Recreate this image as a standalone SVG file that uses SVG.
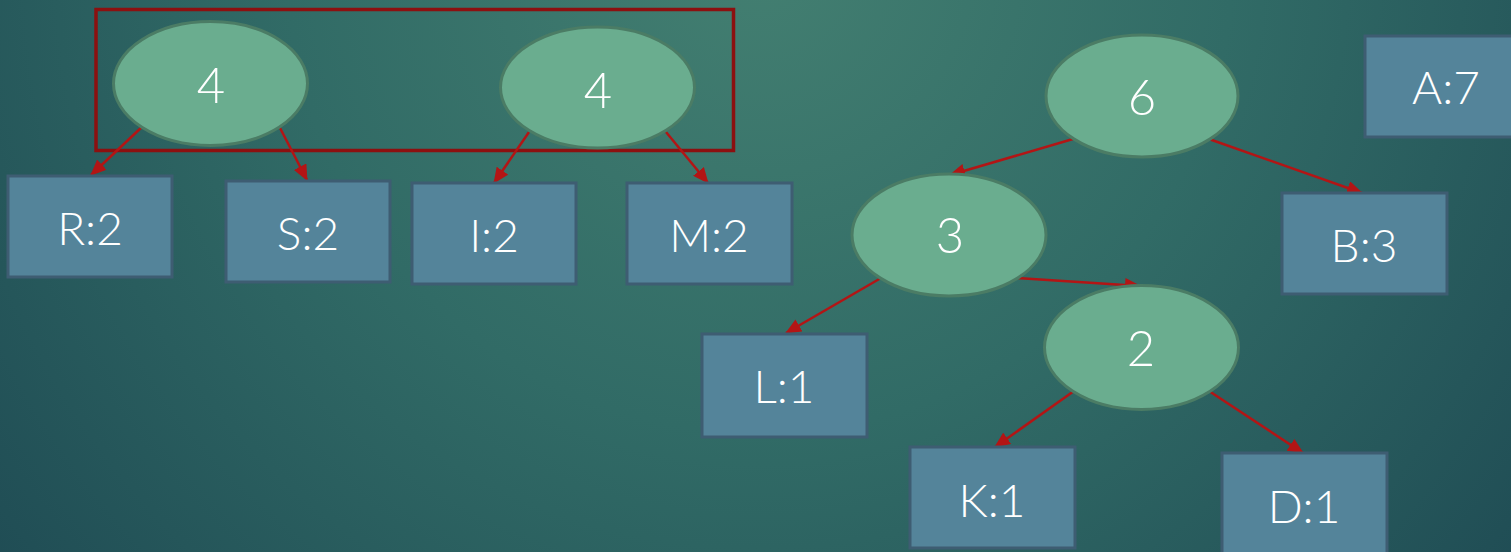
<svg xmlns="http://www.w3.org/2000/svg" width="1511" height="552" viewBox="0 0 1511 552">
  <defs>
    <radialGradient id="bg" cx="760" cy="-40" r="1050" gradientUnits="userSpaceOnUse">
      <stop offset="0" stop-color="#437f71"/>
      <stop offset="0.45" stop-color="#316b66"/>
      <stop offset="1" stop-color="#1d4852"/>
    </radialGradient>
    <marker id="arrow" markerUnits="userSpaceOnUse" markerWidth="16" markerHeight="14" refX="15" refY="7" orient="auto">
      <path d="M0,0 L16,7 L0,14 z" fill="#b31515"/>
    </marker>
    <style>
      .inner ellipse { fill: #6aad8f; stroke: #4b7c65; stroke-width: 3; }
      .leaf rect { fill: #54849a; stroke: #3e5d72; stroke-width: 3; }
      .lbl { font-family: Lato, "Liberation Sans", sans-serif; font-weight: 300; fill: #ffffff; text-anchor: middle; }
      .leaf .lbl { font-size: 46px; }
      .inner .lbl { font-size: 49px; }
      .edges line { stroke: #b31515; stroke-width: 2.5; marker-end: url(#arrow); }
    </style>
  </defs>

  <rect x="0" y="0" width="1511" height="552" fill="url(#bg)"/>

  <!-- highlight frame around the two 4-subtrees -->
  <rect id="frame" x="96" y="9.5" width="637.5" height="141" fill="none" stroke="#8c1010" stroke-width="3.5"/>

  <!-- connectors -->
  <g id="edges" class="edges">
    <line x1="143" y1="126" x2="91" y2="175"/>
    <line x1="279" y1="126" x2="307" y2="180"/>
    <line x1="529" y1="132" x2="494" y2="183"/>
    <line x1="666" y1="132" x2="708" y2="183"/>
    <line x1="1073" y1="139" x2="950" y2="175"/>
    <line x1="1209" y1="139" x2="1362" y2="193"/>
    <line x1="1017" y1="278" x2="1140" y2="286"/>
    <line x1="881" y1="278" x2="786" y2="333"/>
    <line x1="1074" y1="391" x2="995" y2="447"/>
    <line x1="1209" y1="391" x2="1303" y2="453"/>
  </g>

  <!-- internal nodes -->
  <g id="n4a" class="inner">
    <ellipse cx="210.5" cy="83.5" rx="97" ry="62"/>
    <text class="lbl" x="211" y="103">4</text>
  </g>
  <g id="n4b" class="inner">
    <ellipse cx="597.5" cy="87.5" rx="97" ry="60.5"/>
    <text class="lbl" x="598" y="108">4</text>
  </g>
  <g id="n6" class="inner">
    <ellipse cx="1142" cy="96" rx="96" ry="61"/>
    <text class="lbl" x="1142" y="115">6</text>
  </g>
  <g id="n3" class="inner">
    <ellipse cx="949" cy="235" rx="97" ry="61"/>
    <text class="lbl" x="950" y="253">3</text>
  </g>
  <g id="n2" class="inner">
    <ellipse cx="1141.5" cy="347.5" rx="97" ry="62"/>
    <text class="lbl" x="1141" y="366">2</text>
  </g>

  <!-- leaves -->
  <g id="leafR" class="leaf">
    <rect x="8" y="176" width="164" height="101"/>
    <text class="lbl" x="90" y="245">R:2</text>
  </g>
  <g id="leafS" class="leaf">
    <rect x="226" y="181" width="164" height="101"/>
    <text class="lbl" x="308" y="250">S:2</text>
  </g>
  <g id="leafI" class="leaf">
    <rect x="412" y="183" width="164" height="101"/>
    <text class="lbl" x="494" y="252">I:2</text>
  </g>
  <g id="leafM" class="leaf">
    <rect x="627" y="183" width="165" height="101"/>
    <text class="lbl" x="709" y="252">M:2</text>
  </g>
  <g id="leafA" class="leaf">
    <rect x="1365" y="36" width="164" height="101"/>
    <text class="lbl" x="1446" y="104">A:7</text>
  </g>
  <g id="leafB" class="leaf">
    <rect x="1282" y="193" width="165" height="101"/>
    <text class="lbl" x="1364" y="262">B:3</text>
  </g>
  <g id="leafL" class="leaf">
    <rect x="702" y="334" width="165" height="103"/>
    <text class="lbl" x="784" y="403">L:1</text>
  </g>
  <g id="leafK" class="leaf">
    <rect x="910" y="447" width="165" height="101"/>
    <text class="lbl" x="992" y="517">K:1</text>
  </g>
  <g id="leafD" class="leaf">
    <rect x="1222" y="453" width="165" height="101"/>
    <text class="lbl" x="1304" y="523">D:1</text>
  </g>
</svg>
